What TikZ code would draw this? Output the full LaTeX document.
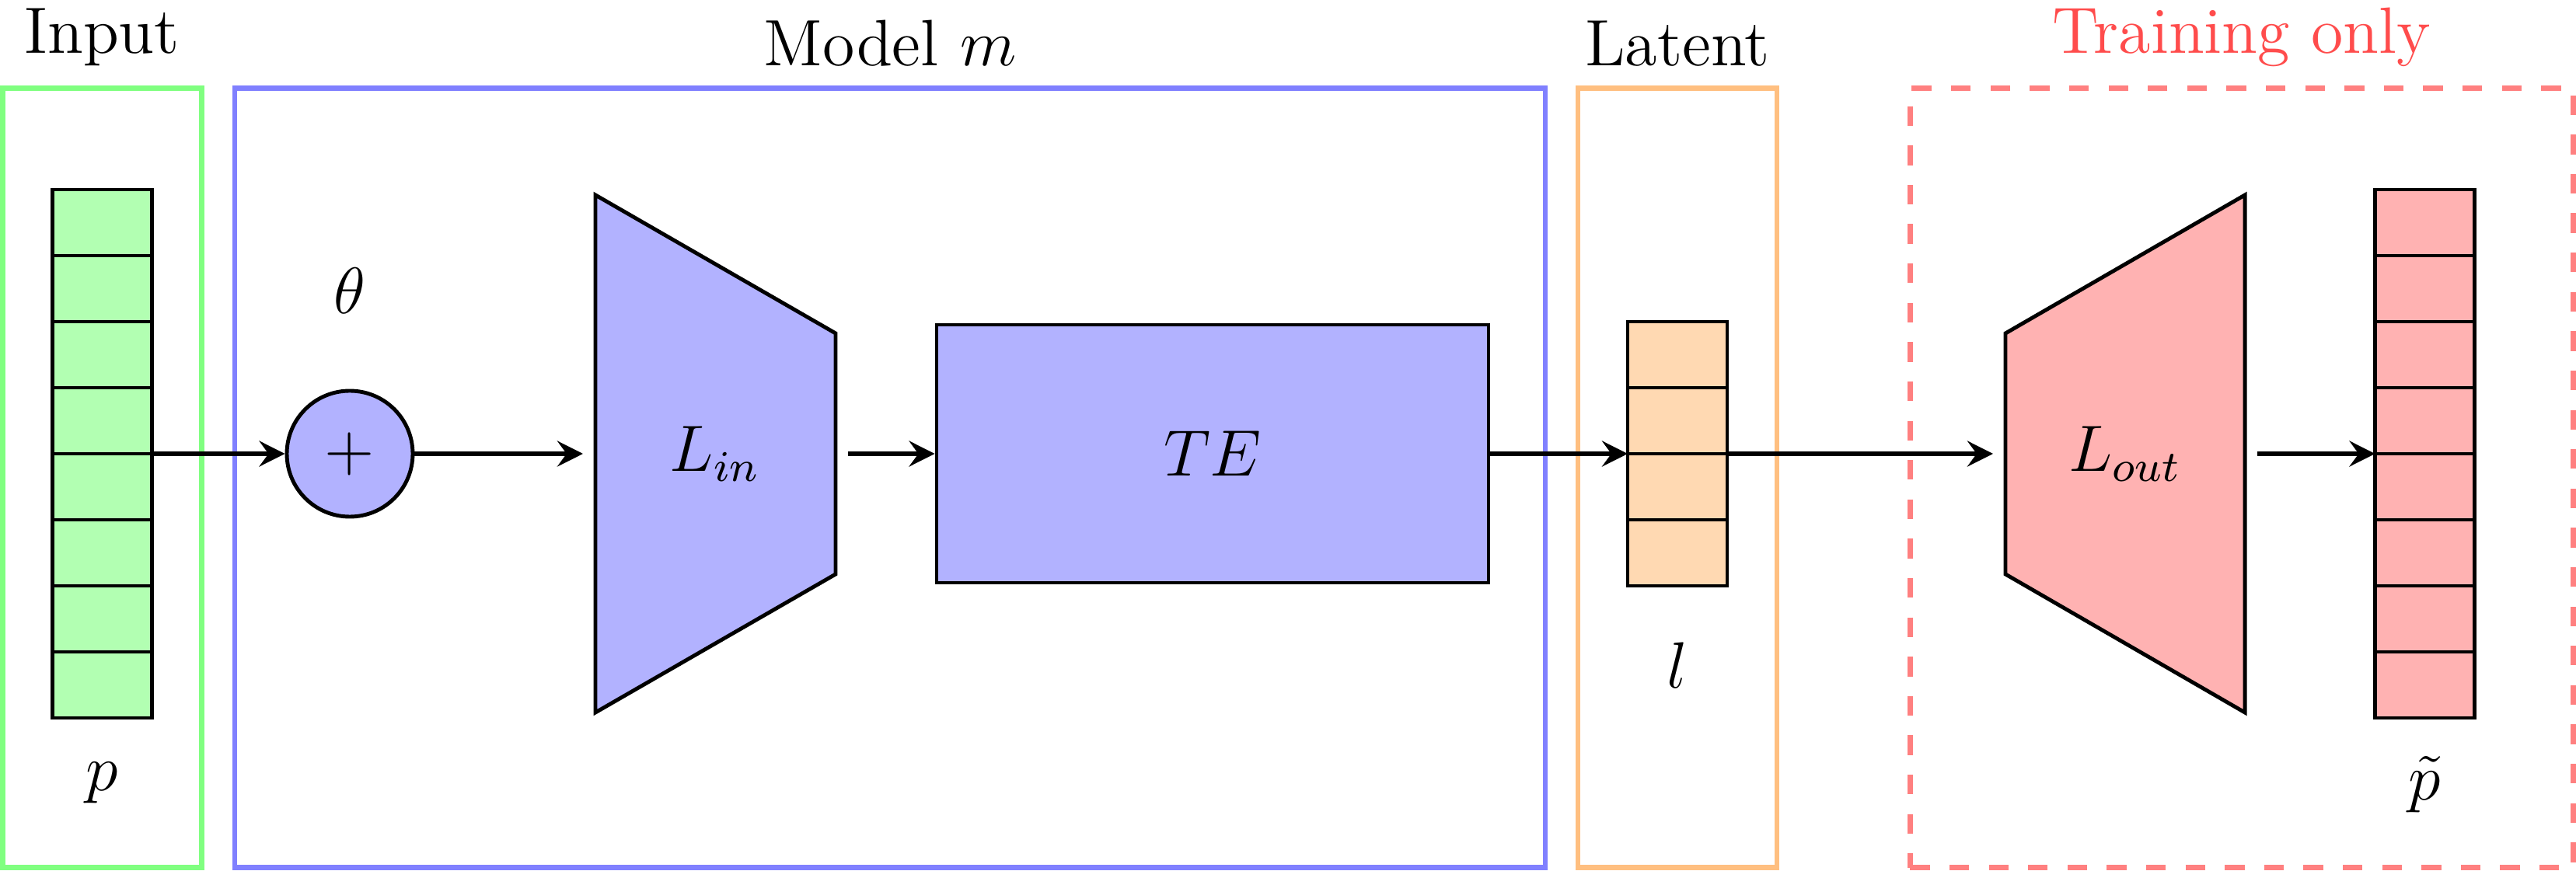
\documentclass[tikz,border=0pt]{standalone}
\usetikzlibrary{positioning, arrows.meta}

\begin{document}
\begin{tikzpicture}[font=\large,
    frame/.style={draw=#1, line width=0.95pt, minimum height=5.015cm, inner sep=0pt},
    vec/.style={draw, line width=0.7pt, fill=#1, minimum width=0.64cm, inner sep=0pt, outer sep=0pt},
    outline/.style={draw, line width=0.7pt, fill=#1},
    arr/.style={line width=0.95pt, -{Stealth[length=4.7pt, width=4.7pt, inset=1.7pt]}}]
    \useasboundingbox (0,0) rectangle (16.57,5.6);

    % stage boxes
    \node[frame=green!50, minimum width=1.28cm, label=above:Input] (inbox) at (0.656,2.525) {};
    \node[frame=blue!50, minimum width=8.43cm, label=above:{Model $m$}] (modelbox) at (5.725,2.525) {};
    \node[frame=orange!50, minimum width=1.28cm, label=above:Latent] (latbox) at (10.79,2.525) {};
    \node[frame=red!50, dash pattern=on 3.6pt off 3.6pt, minimum width=4.267cm, label={[text=red!70]above:Training only}] (trainbox) at (14.42,2.525) {};

    % input vector
    \node[vec=green!30, minimum height=3.4cm] (pvec) at (0.656,2.68) {};
    \foreach \i in {1,...,7}
        \draw[line width=0.7pt] ([yshift=\i*0.425cm]pvec.south west) -- ([yshift=\i*0.425cm]pvec.south east);
    \node (plabel) at (0.656,0.56) {$p$};

    % model
    \node[outline=blue!30, circle, minimum size=0.81cm, inner sep=0pt] (plus) at (2.25,2.68) {$+$};
    \node (theta) at (2.25,3.73) {$\theta$};

    \path[outline=blue!30] (3.83,1.015) -- (3.83,4.345) -- (5.375,3.455) -- (5.375,1.905) -- cycle;
    \node (lin) at (4.6,2.68) {$L_{in}$};
    \coordinate (lin-w) at (3.83,2.68);
    \coordinate (lin-e) at (5.375,2.68);

    \node[outline=blue!30, minimum width=3.55cm, minimum height=1.66cm] (te) at (7.8,2.68) {$TE$};

    % latent vector
    \node[vec=orange!30, minimum height=1.7cm] (lvec) at (10.79,2.68) {};
    \foreach \i in {1,...,3}
        \draw[line width=0.7pt] ([yshift=\i*0.425cm]lvec.south west) -- ([yshift=\i*0.425cm]lvec.south east);
    \node (llabel) at (10.79,1.32) {$l$};

    % decoder, training only
    \path[outline=red!30] (12.9,1.905) -- (12.9,3.455) -- (14.44,4.345) -- (14.44,1.015) -- cycle;
    \node (lout) at (13.67,2.68) {$L_{out}$};
    \coordinate (lout-w) at (12.9,2.68);
    \coordinate (lout-e) at (14.44,2.68);

    \node[vec=red!30, minimum height=3.4cm] (ptvec) at (15.5975,2.68) {};
    \foreach \i in {1,...,7}
        \draw[line width=0.7pt] ([yshift=\i*0.425cm]ptvec.south west) -- ([yshift=\i*0.425cm]ptvec.south east);
    \node (ptlabel) at (15.5975,0.55) {$\tilde{p}$};

    % arrows
    \draw[arr] (pvec.east) -- (plus.west);
    \draw[arr, shorten >=0.08cm] (plus.east) -- (lin-w);
    \draw[arr, shorten <=0.08cm] (lin-e) -- (te.west);
    \draw[arr] (te.east) -- (lvec.west);
    \draw[arr, shorten >=0.08cm] (lvec.east) -- (lout-w);
    \draw[arr, shorten <=0.08cm] (lout-e) -- (ptvec.west);
\end{tikzpicture}
\end{document}
